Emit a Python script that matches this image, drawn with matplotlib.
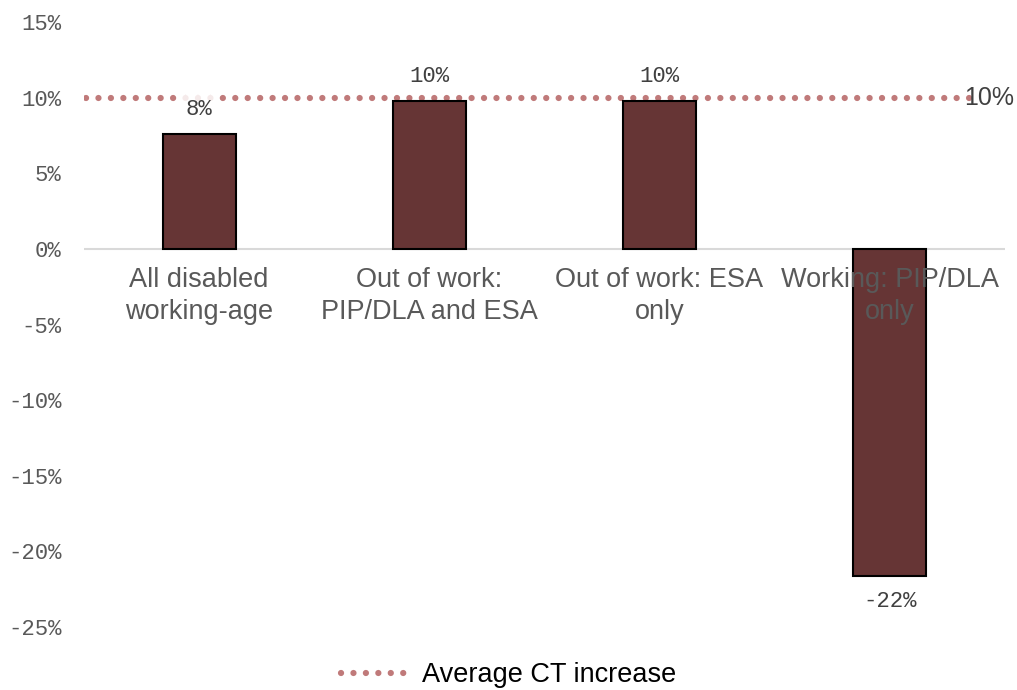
import numpy as np
import matplotlib.pyplot as plt

categories = ['All disabled\nworking-age', 'Out of work:\nPIP/DLA and ESA',
              'Out of work: ESA\nonly', 'Working: PIP/DLA\nonly']
values = [7.6, 9.8, 9.8, -21.6]
value_labels = ['8%', '10%', '10%', '-22%']
avg_increase = 10.0
yticks = [-25, -20, -15, -10, -5, 0, 5, 10, 15]

bar_color = '#663535'
avg_color = '#c07a7a'
mono = 'Liberation Mono'
sans = 'Liberation Sans'

fig = plt.figure(figsize=(10.17, 6.9), dpi=100)
ax = fig.add_axes([0.0826, 0.0913, 0.9054, 0.8767])

x = np.arange(len(categories))
ax.bar(x, values, width=0.317, color=bar_color, edgecolor='black', linewidth=1.5, zorder=2)
ax.axhline(0, color='#d9d9d9', linewidth=1.5, zorder=1)

line, = ax.plot([-0.49, 3.35], [avg_increase, avg_increase], linestyle=(0, (0.01, 1.98)),
                color=avg_color, linewidth=4.5, dash_capstyle='round', zorder=1,
                label='Average CT increase')
ax.text(3.43, avg_increase, '10%', ha='center', va='center', fontsize=18,
        family=sans, color='#404040', zorder=5)

for xi, v, lab in zip(x, values, value_labels):
    if v >= 0:
        ax.annotate(lab, (xi, v), xytext=(0, 10), textcoords='offset points', ha='center',
                    va='bottom', fontsize=16, family=mono, color='#404040', zorder=4,
                    bbox=dict(boxstyle='square,pad=0.2', fc='white', ec='none', alpha=0.85) if xi == 0 else None)
    else:
        ax.annotate(lab, (xi, v), xytext=(0, -11), textcoords='offset points', ha='center',
                    va='top', fontsize=16, family=mono, color='#404040', zorder=4)

for xi, cat in zip(x, categories):
    ax.annotate(cat, (xi, 0), xytext=(0, -13), textcoords='offset points', ha='center',
                va='top', fontsize=19.5, family=sans, color='#595959', linespacing=1.3, zorder=3)

ax.set_xlim(-0.5, 3.5)
ax.set_ylim(-25, 15)
ax.set_xticks([])
ax.set_yticks(yticks)
ax.set_yticklabels([f'{t}%' for t in yticks], family=mono, fontsize=16, color='#595959')
ax.tick_params(axis='y', length=0, pad=16)
for s in ax.spines.values():
    s.set_visible(False)

fig.legend(handles=[line], loc='lower center', bbox_to_anchor=(0.5, -0.033), frameon=False,
           prop={'family': sans, 'size': 19.5}, handlelength=2.6, handletextpad=0.4)

fig.savefig('out.png', dpi=100)
